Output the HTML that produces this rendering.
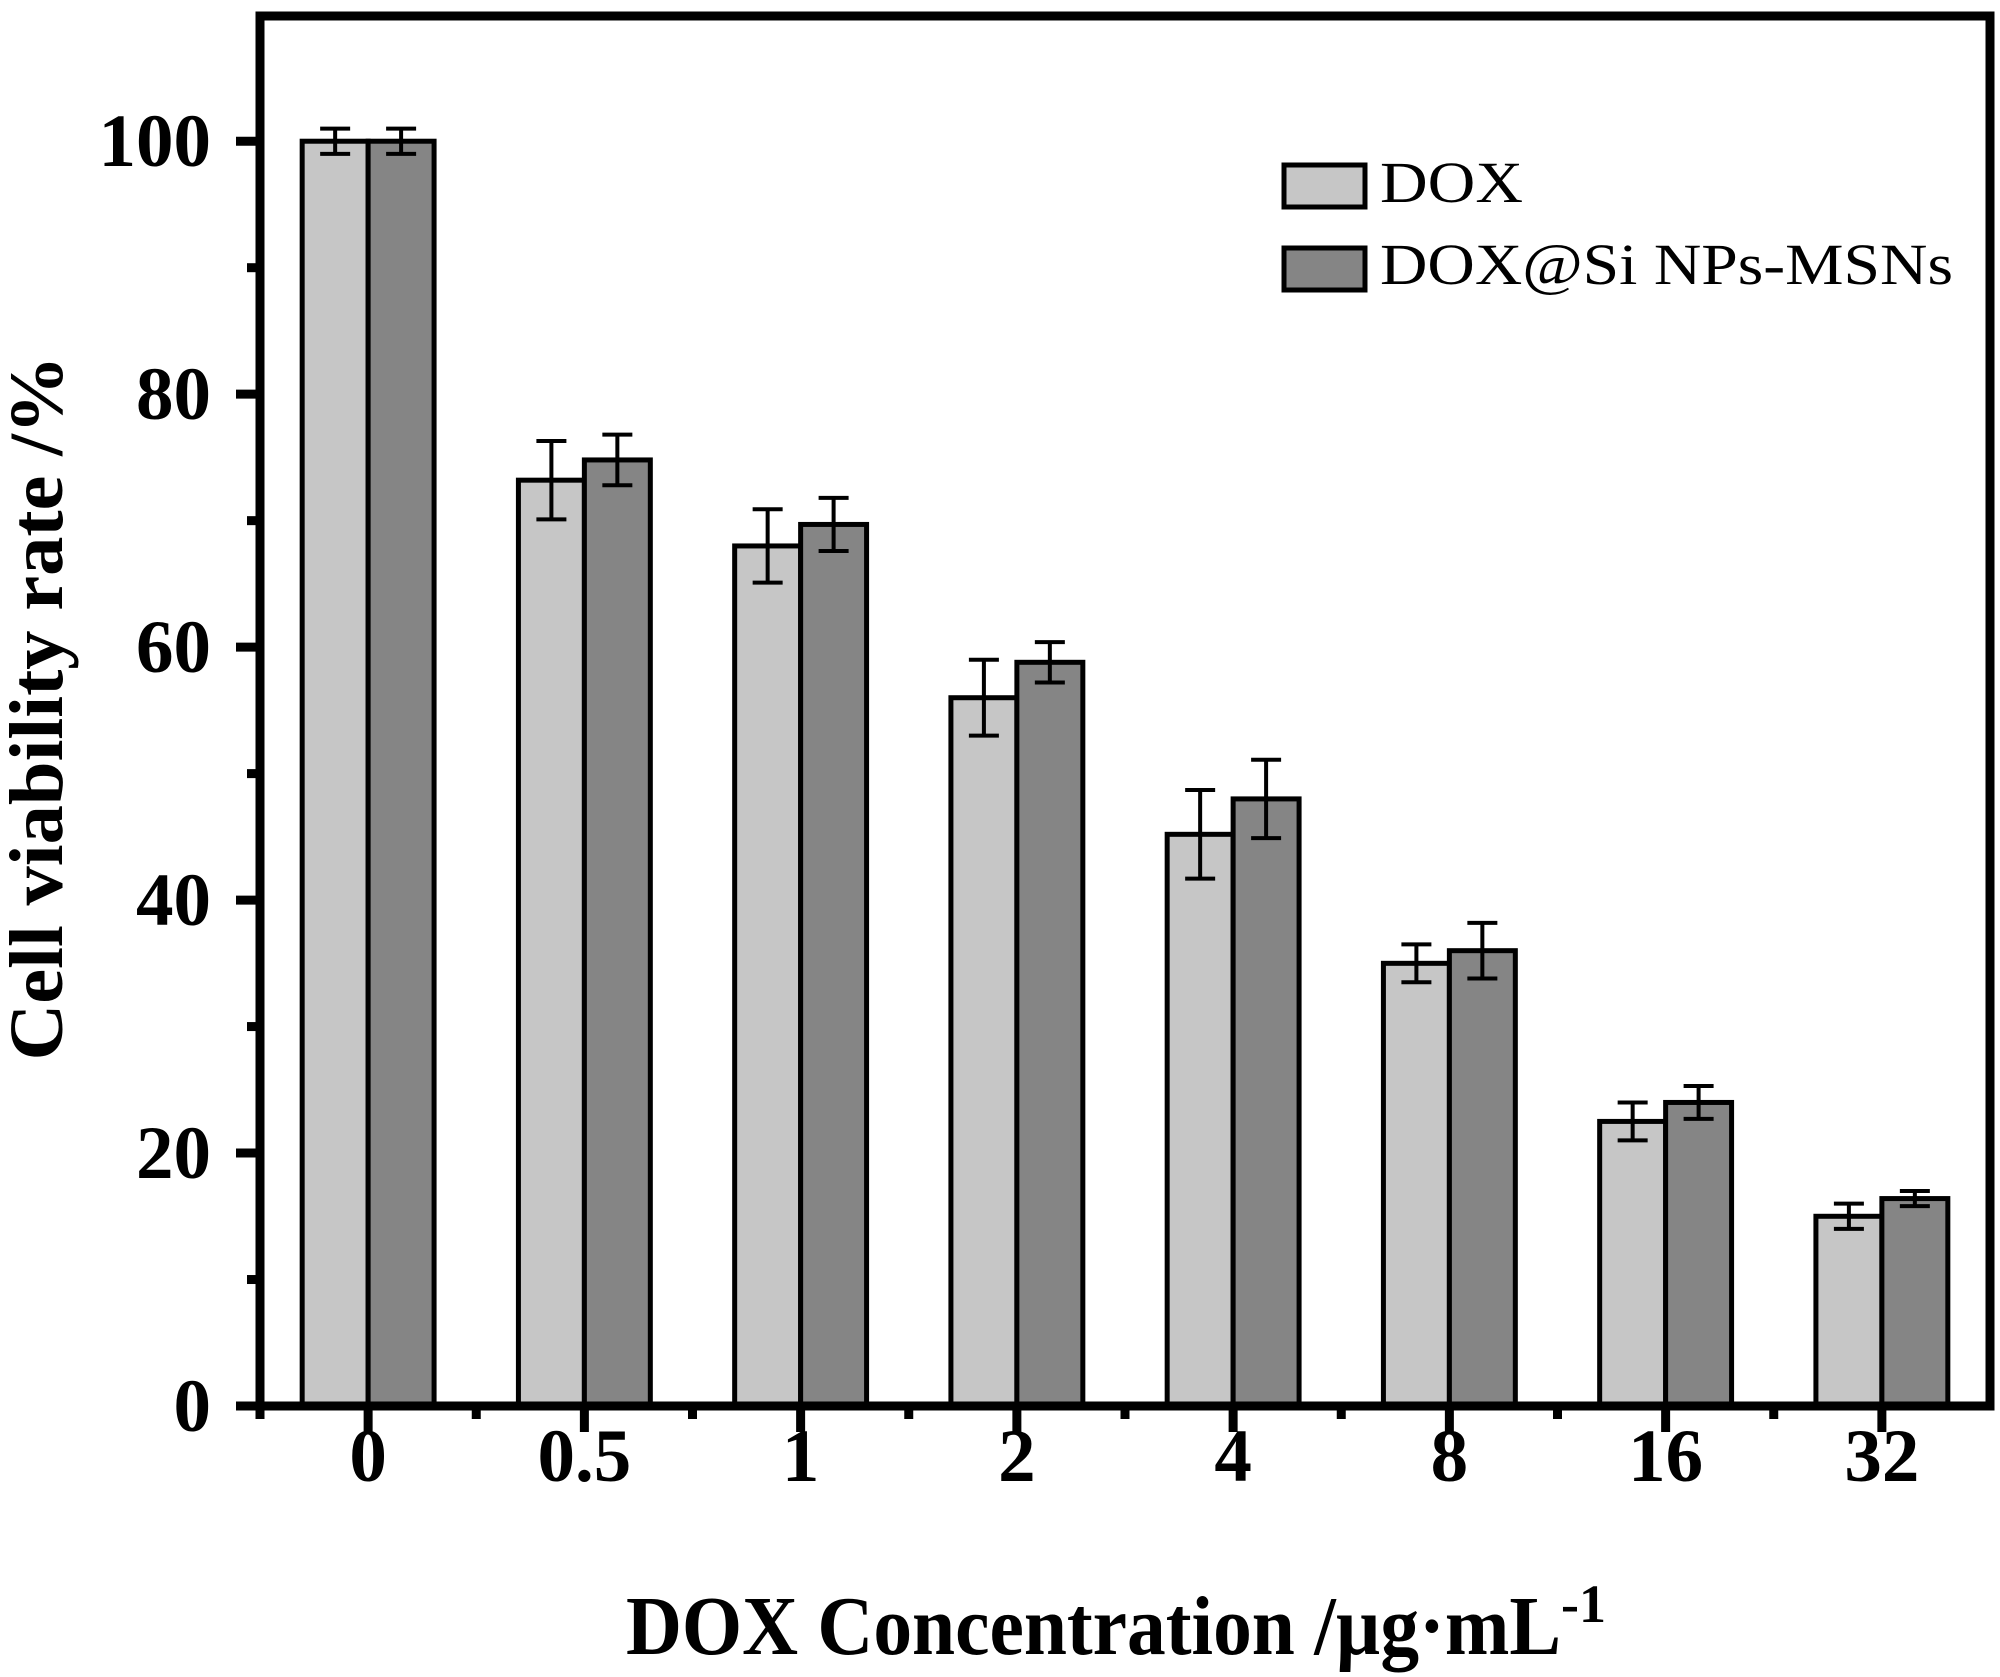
<!DOCTYPE html>
<html><head><meta charset="utf-8"><style>
html,body{margin:0;padding:0;background:#fff}
svg{display:block}
text{font-family:"Liberation Serif",serif;fill:#000}
</style></head><body>
<svg id="chart" width="2000" height="1677" viewBox="0 0 2000 1677" xmlns="http://www.w3.org/2000/svg">
<g id="plot"></g>
<g>
<rect x="1284" y="165" width="81" height="42" fill="#c6c6c6" stroke="#000" stroke-width="5"/>
<text x="1380" y="202" font-size="58" textLength="143" lengthAdjust="spacingAndGlyphs">DOX</text>
<rect x="1284" y="248" width="81" height="42" fill="#858585" stroke="#000" stroke-width="5"/>
<text x="1380" y="284" font-size="58" textLength="573" lengthAdjust="spacingAndGlyphs">DOX@Si NPs-MSNs</text>
</g>
<text transform="translate(62,708) rotate(-90)" text-anchor="middle" font-size="76" font-weight="bold" textLength="705" lengthAdjust="spacingAndGlyphs">Cell viability rate /%</text>
<text x="626" y="1654" font-size="84" font-weight="bold"><tspan textLength="935" lengthAdjust="spacingAndGlyphs">DOX Concentration /µg·mL</tspan><tspan dy="-32" font-size="54">-1</tspan></text>
</svg>
<script>
const categories = ["0","0.5","1","2","4","8","16","32"];
const doxValues = [100, 73.2, 68.0, 56.0, 45.2, 35.0, 22.5, 15.0];
const doxErrors = [1.0, 3.1, 2.9, 3.0, 3.5, 1.5, 1.5, 1.0];
const siValues = [100, 74.8, 69.7, 58.8, 48.0, 36.0, 24.0, 16.4];
const siErrors = [1.0, 2.0, 2.1, 1.6, 3.1, 2.2, 1.3, 0.6];
const yTicks = [0, 20, 40, 60, 80, 100];

const NS = "http://www.w3.org/2000/svg";
const L = 260, R = 1990, T = 16, B = 1406;
const yMin = 0, yMax = 110;
const step = (R - L) / categories.length;
function xScale(i){ return L + step * (i + 0.5); }
function yScale(v){ return B - (v - yMin) / (yMax - yMin) * (B - T) * (110/109.9); }
const plot = document.getElementById('plot');
function mk(tag, attrs){ const e = document.createElementNS(NS, tag); for (const k in attrs) e.setAttribute(k, attrs[k]); plot.appendChild(e); return e; }
const bw = step * 0.305;

function drawSeries(vals, errs, offset, fill, nm){
  vals.forEach((v, i) => {
    const x0 = xScale(i) + offset * bw;
    const r = mk('rect', {x: x0, y: yScale(v), width: bw, height: B - yScale(v), fill: fill, stroke: '#000', 'stroke-width': 5});
    
    
  });
}
function drawErr(vals, errs, offset, nm){
  vals.forEach((v, i) => {
    const cx = xScale(i) + offset * bw + bw / 2;
    const yt = yScale(v + errs[i]), yb = yScale(v - errs[i]);
    const g = document.createElementNS(NS, 'path');
    g.setAttribute('d', `M${cx},${yt}V${yb}M${cx-15},${yt}H${cx+15}M${cx-15},${yb}H${cx+15}`);
    g.setAttribute('stroke', '#000'); g.setAttribute('stroke-width', 4); g.setAttribute('fill', 'none');
    
    
    plot.appendChild(g);
  });
}
drawSeries(doxValues, doxErrors, -1, '#c6c6c6', 'dox');
drawSeries(siValues, siErrors, 0, '#858585', 'dox-si');
drawErr(doxValues, doxErrors, -1, 'dox');
drawErr(siValues, siErrors, 0, 'dox-si');

const fr = mk('path', {d: `M${L},${T}H${R}V${B}H${L}Z`, fill: 'none', stroke: '#000', 'stroke-width': 9});



yTicks.forEach(t => {
  const y = yScale(t);
  const tk = mk('line', {x1: L - 24, x2: L, y1: y, y2: y, stroke: '#000', 'stroke-width': 9});
  
  
  const tx = mk('text', {x: 211, y: y + 25, 'text-anchor': 'end', 'font-size': 75, 'font-weight': 'bold'});
  tx.textContent = t;
  
  
  if (t < 100) {
    const ym = yScale(t + 10);
    const mt = mk('line', {x1: L - 13, x2: L, y1: ym, y2: ym, stroke: '#000', 'stroke-width': 9});
    
    
  }
});
categories.forEach((c, i) => {
  const x = xScale(i);
  const tk = mk('line', {x1: x, x2: x, y1: B, y2: B + 26, stroke: '#000', 'stroke-width': 9});
  
  
  const mx = L + step * i;
  const mt = mk('line', {x1: mx, x2: mx, y1: B, y2: B + 13, stroke: '#000', 'stroke-width': 9});
  
  
  const tx = mk('text', {x: x, y: 1481, 'text-anchor': 'middle', 'font-size': 75, 'font-weight': 'bold'});
  tx.textContent = c;
  
  
});
</script>
</body></html>
